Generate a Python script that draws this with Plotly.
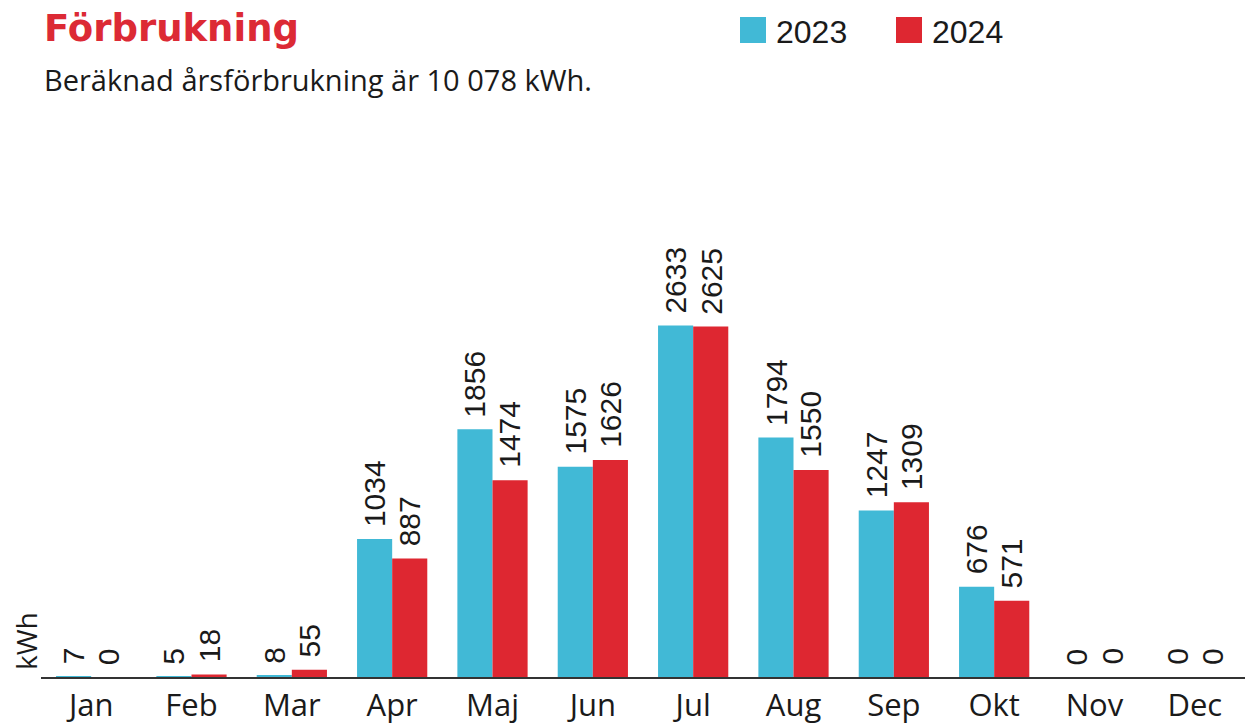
import plotly.graph_objects as go

months = ["Jan", "Feb", "Mar", "Apr", "Maj", "Jun", "Jul", "Aug", "Sep", "Okt", "Nov", "Dec"]
values_2023 = [7, 5, 8, 1034, 1856, 1575, 2633, 1794, 1247, 676, 0, 0]
values_2024 = [0, 18, 55, 887, 1474, 1626, 2625, 1550, 1309, 571, 0, 0]
series_names = ["2023", "2024"]

C23 = "#41B9D6"
C24 = "#DE2731"
RED_TITLE = "#DC2A35"
NUM_FONT = "Liberation Sans, Arial, sans-serif"
TXT_FONT = "Open Sans, sans-serif"
TITLE_FONT = "DejaVu Sans, sans-serif"

OFF_X, OFF_Y = 8, 8
W, H = 1245, 716
PL, PR, PT, PB = 41, 1245, 130, 677  # plot box in page pixels
ML, MR, MT, MB = PL - OFF_X, OFF_X + W - PR, PT - OFF_Y, OFF_Y + H - PB
PW, PH = PR - PL, PB - PT
YMAX = PH / 0.1335

fig = go.Figure()
for name, vals, col in [(series_names[0], values_2023, C23), (series_names[1], values_2024, C24)]:
    fig.add_trace(go.Bar(x=months, y=vals, name=name, marker=dict(color=col, line=dict(width=0)),
                         showlegend=False))

bar_px = PW / len(months) * 0.35
annos = []
for vals, sh in [(values_2023, -bar_px / 2), (values_2024, bar_px / 2)]:
    for m, v in zip(months, vals):
        annos.append(dict(x=m, y=v, xref="x", yref="y", text=str(v), showarrow=False,
                          textangle=-90, xanchor="center", yanchor="bottom", xshift=sh, yshift=10,
                          font=dict(family=NUM_FONT, size=30, color="#1a1a1a")))


def px_x(p):
    return (p - PL) / PW


def px_y(p):
    return (PB - p) / PH


annos.append(dict(text="<b>Förbrukning</b>", xref="paper", yref="paper", x=px_x(42), y=px_y(29),
                  xanchor="left", yanchor="middle", showarrow=False,
                  font=dict(family=TITLE_FONT, size=37, color=RED_TITLE)))
annos.append(dict(text="Beräknad årsförbrukning är 10 078 kWh.", xref="paper", yref="paper",
                  x=px_x(42), y=px_y(80), xanchor="left", yanchor="middle", showarrow=False,
                  font=dict(family=TXT_FONT, size=29, color="#1a1a1a")))
shapes = []
for name, col, x0 in [(series_names[0], C23, 740), (series_names[1], C24, 896)]:
    shapes.append(dict(type="rect", xref="paper", yref="paper", x0=px_x(x0), x1=px_x(x0 + 26),
                       y0=px_y(43), y1=px_y(17), fillcolor=col, line=dict(width=0)))
    annos.append(dict(text=name, xref="paper", yref="paper", x=px_x(x0 + 34), y=px_y(32),
                      xanchor="left", yanchor="middle", showarrow=False,
                      font=dict(family=NUM_FONT, size=32, color="#1a1a1a")))
annos.append(dict(text="kWh", xref="paper", yref="paper", x=px_x(26), y=0, xanchor="center",
                  yanchor="bottom", yshift=5, textangle=-90, showarrow=False,
                  font=dict(family=TXT_FONT, size=28, color="#1a1a1a")))

fig.update_layout(
    width=W, height=H, margin=dict(l=ML, r=MR, t=MT, b=MB, autoexpand=False),
    paper_bgcolor="white", plot_bgcolor="white",
    barmode="group", bargap=0.3, bargroupgap=0,
    annotations=annos, shapes=shapes,
    xaxis=dict(showline=True, linecolor="#333", linewidth=1.5, ticks="", showgrid=False,
               automargin=False, ticklabelstandoff=0,
               tickfont=dict(family=TXT_FONT, size=31, color="#1a1a1a")),
    yaxis=dict(range=[0, YMAX], visible=False, showgrid=False, zeroline=False, automargin=False),
)
fig.write_html("out.html")
